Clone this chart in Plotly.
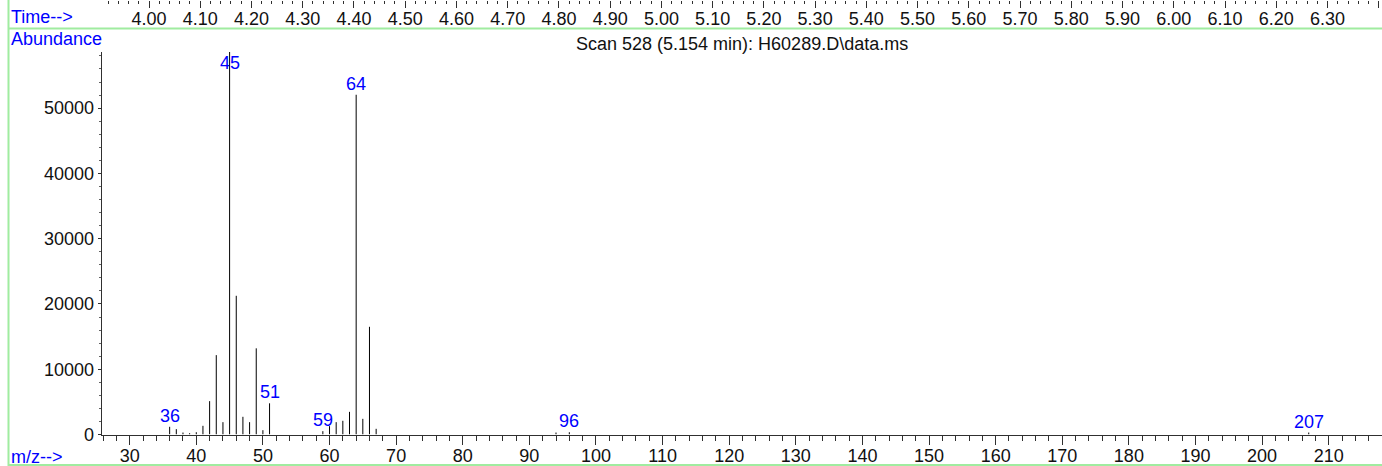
import plotly.graph_objects as go

# Mass spectrum of scan 528
mz = [36, 37, 38, 39, 40, 41, 42, 43, 44, 45, 46, 47, 48, 49, 50, 51,
      59, 60, 61, 62, 63, 64, 65, 66, 67, 94, 96, 207]
abundance = [1180, 820, 300, 200, 350, 1330, 5110, 12160, 1890, 58600, 21250, 2710,
             1890, 13200, 660, 4780, 510, 1280, 1890, 2100, 3470, 52050, 2400, 16500,
             870, 300, 350, 300]
labeled_mz = [36, 45, 51, 59, 64, 96, 207]

title_text = "Scan 528 (5.154 min): H60289.D\\data.ms"
mz_range = [25.8, 218.0]
time_range = [3.9077, 6.4063]
y_max = 58600

# page geometry (pixels)
W, H = 1382, 466
left_px = 101.7
top_px = 52.0
bottom_px = 434.5
plot_h = bottom_px - top_px

FONT = "Liberation Sans, Arial, sans-serif"
BLUE = "#0000ff"
GREEN = "rgb(160,236,160)"

# vertical stems, one per ion
sx, sy = [], []
for m, a in zip(mz, abundance):
    sx += [m, m, None]
    sy += [0, a, None]

fig = go.Figure()
fig.add_trace(go.Scatter(x=sx, y=sy, mode="lines",
                         line=dict(color="#000000", width=1),
                         hoverinfo="skip", showlegend=False))
# retention-time scale along the top
fig.add_trace(go.Scatter(x=[None], y=[None], xaxis="x2", yaxis="y",
                         mode="lines", showlegend=False, hoverinfo="skip"))

tick_font = dict(family=FONT, size=18, color="#111111")

fig.update_layout(
    width=W, height=H,
    margin=dict(l=0, r=0, t=0, b=0, pad=0, autoexpand=False),
    paper_bgcolor="white", plot_bgcolor="white",
    showlegend=False,
    xaxis=dict(
        domain=[left_px / W, 1.0], range=mz_range, automargin=False,
        showline=True, linecolor="#303030", linewidth=1,
        ticks="outside", ticklen=9, tickwidth=1, tickcolor="#303030",
        tick0=0, dtick=10, ticklabelstandoff=-4,
        minor=dict(ticks="outside", ticklen=5, tickwidth=1, tickcolor="#303030",
                   dtick=2, tick0=0, showgrid=False),
        showgrid=False, zeroline=False, tickfont=tick_font,
    ),
    yaxis=dict(
        domain=[1 - bottom_px / H, 1 - top_px / H], range=[0, y_max], automargin=False,
        showline=True, linecolor="#303030", linewidth=1,
        ticks="outside", ticklen=3, tickwidth=1, tickcolor="#303030",
        tick0=0, dtick=10000, tickformat="d",
        minor=dict(ticks="outside", ticklen=2, tickwidth=1, tickcolor="#606060",
                   dtick=2000, tick0=0, showgrid=False),
        showgrid=False, zeroline=False, tickfont=tick_font,
    ),
    xaxis2=dict(
        overlaying="x", anchor="free", position=1.0, side="bottom", automargin=False,
        range=time_range, tick0=0, dtick=0.1, tickformat=".2f",
        ticks="outside", ticklen=7, tickwidth=1, tickcolor="#303030",
        ticklabelstandoff=-5,
        minor=dict(ticks="outside", ticklen=3, tickwidth=1, tickcolor="#303030",
                   dtick=0.02, tick0=0, showgrid=False),
        showline=False, showgrid=False, zeroline=False, tickfont=tick_font,
    ),
)

# frame lines
shapes = [
    dict(type="line", xref="paper", yref="paper", x0=8.5 / W, x1=8.5 / W, y0=0, y1=1,
         line=dict(color=GREEN, width=2)),
    dict(type="line", xref="paper", yref="paper", x0=8.5 / W, x1=1, y0=1 - 28.5 / H, y1=1 - 28.5 / H,
         line=dict(color=GREEN, width=2)),
    dict(type="line", xref="paper", yref="paper", x0=8.5 / W, x1=1, y0=1 - 465 / H, y1=1 - 465 / H,
         line=dict(color=GREEN, width=2)),
]
fig.update_layout(shapes=shapes)

annotations = [
    dict(text="Time-->", x=9 / W, y=1 - 17 / H, xanchor="left", yanchor="middle"),
    dict(text="Abundance", x=9 / W, y=1 - 39 / H, xanchor="left", yanchor="middle"),
    dict(text="m/z-->", x=9 / W, y=1 - 457 / H, xanchor="left", yanchor="middle"),
]
anns = []
for a in annotations:
    anns.append(dict(xref="paper", yref="paper", showarrow=False,
                     font=dict(family=FONT, size=18, color=BLUE), **a))
anns.append(dict(text=title_text, xref="paper", yref="paper", x=741.7 / W, y=1 - 43.5 / H,
                 xanchor="center", yanchor="middle", showarrow=False,
                 font=dict(family=FONT, size=18, color="#111111")))

# peak labels sit just above the stem; if that would leave the plot, tuck them below the top
gap = 11
for m in labeled_mz:
    a = abundance[mz.index(m)]
    stem_top = bottom_px - a / y_max * plot_h
    shift = gap if stem_top - gap >= top_px + gap else -gap
    anns.append(dict(text=str(m), x=m, y=a, xref="x", yref="y",
                     xanchor="center", yanchor="middle", yshift=shift, showarrow=False,
                     font=dict(family=FONT, size=18, color=BLUE)))
fig.update_layout(annotations=anns)

fig.write_html("out.html")
